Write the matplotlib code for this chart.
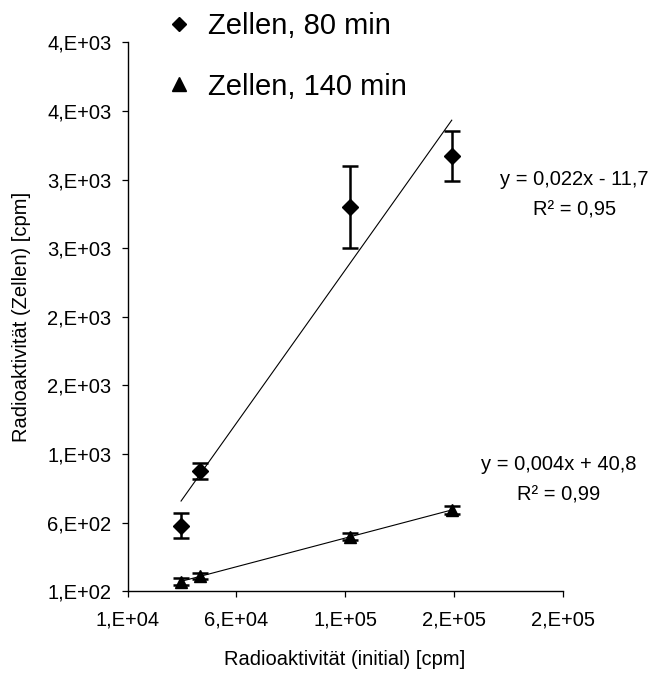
import numpy as np
import matplotlib
matplotlib.use("Agg")
import matplotlib.pyplot as plt
from matplotlib.lines import Line2D
from matplotlib.ticker import FuncFormatter

plt.rcParams['font.family'] = ['Liberation Sans', 'DejaVu Sans']

# data
x_initial = [34600, 43300, 112300, 159000]

y_80 = [578, 979, 2902, 3274]
err_80 = [90, 58, 298, 182]

y_140 = [170, 211, 498, 692]
err_140 = [25, 25, 25, 28]

labels = ["Zellen, 80 min", "Zellen, 140 min"]
eq_80 = "y = 0,022x - 11,7\nR² = 0,95"
eq_140 = "y = 0,004x + 40,8\nR² = 0,99"

x_ticks = np.arange(10000, 210001, 50000)
y_ticks = np.arange(100, 4101, 500)


def excel_sci(v, pos):
    s = f"{v:.0E}"
    return s[0] + "," + s[1:]


fig = plt.figure(figsize=(6.58, 6.77), dpi=100)
ax = fig.add_axes([0.1938, 0.1266, 0.6614, 0.8109])

fs = 14.5

for y, err, mk, ms in [(y_80, err_80, 'D', 8), (y_140, err_140, '^', 9)]:
    ax.errorbar(x_initial, y, yerr=err, fmt=mk, color='black', ms=ms,
                ecolor='black', elinewidth=1.8, capsize=6, capthick=1.8,
                zorder=3, clip_on=False)
    # linear trend line over the data range
    k, d = np.polyfit(x_initial, y, 1)
    xs = np.array([min(x_initial), max(x_initial)])
    ax.plot(xs, k * xs + d, color='black', lw=0.8, zorder=2)

ax.text(1.027, 0.722, eq_80, transform=ax.transAxes, ha='center',
        va='center', fontsize=fs, linespacing=1.75, clip_on=False)
ax.text(0.99, 0.203, eq_140, transform=ax.transAxes, ha='center',
        va='center', fontsize=fs, linespacing=1.75, clip_on=False)

ax.set_xlim(10000, 210000)
ax.set_ylim(100, 4100)
ax.set_xticks(x_ticks)
ax.set_yticks(y_ticks)
ax.xaxis.set_major_formatter(FuncFormatter(excel_sci))
ax.yaxis.set_major_formatter(FuncFormatter(excel_sci))

for side in ['top', 'right']:
    ax.spines[side].set_visible(False)
for side in ['left', 'bottom']:
    ax.spines[side].set_linewidth(1.0)
ax.tick_params(direction='out', length=4.5, width=0.9, labelsize=fs)
ax.tick_params(axis='x', pad=9)
ax.tick_params(axis='y', pad=7)

ax.set_xlabel("Radioaktivität (initial) [cpm]", fontsize=fs, labelpad=15)
ax.set_ylabel("Radioaktivität (Zellen) [cpm]", fontsize=fs, labelpad=12)

handles = [Line2D([], [], ls='none', marker='D', ms=7, color='black'),
           Line2D([], [], ls='none', marker='^', ms=10, color='black')]
fig.legend(handles, labels, loc='upper left',
           bbox_to_anchor=(164 / 658, 1 - 12 / 677), frameon=False,
           fontsize=21, handlelength=1.0, handletextpad=0.5,
           labelspacing=1.12, borderpad=0, borderaxespad=0)

fig.savefig("out.png", dpi=100)
